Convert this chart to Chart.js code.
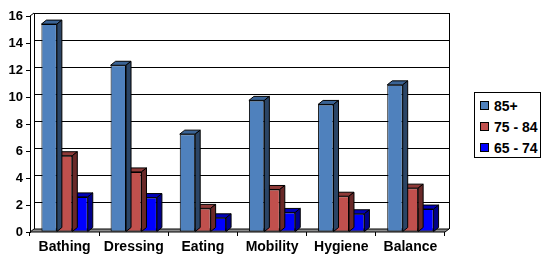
<!DOCTYPE html>
<html>
<head>
<meta charset="utf-8">
<script src="https://cdn.jsdelivr.net/npm/chart.js@4.4.0/dist/chart.umd.min.js"></script>
<style>
  body { margin: 0; background: #fff; }
  #wrap { position: relative; width: 542px; height: 257px; }
  #legend {
    position: absolute; left: 474px; top: 92px; width: 65px; height: 64px;
    border: 1px solid #000; background: #fff;
    font: bold 14px "Liberation Sans", Arial, sans-serif; color: #000;
  }
  .item { position: absolute; left: 5px; height: 16px; line-height: 16px; white-space: nowrap; }
  .swatch { display: inline-block; width: 7px; height: 7px; border: 1px solid #000; margin-right: 5px; vertical-align: 1px; }
</style>
</head>
<body>
<div id="wrap">
  <canvas id="chart" width="542" height="257"></canvas>
  <div id="legend"></div>
</div>
<script>
const categories = ['Bathing', 'Dressing', 'Eating', 'Mobility', 'Hygiene', 'Balance'];
const seriesLabels = ['85+', '75 - 84', '65 - 74'];
const age85plus = [15.4, 12.35, 7.25, 9.75, 9.45, 10.9];
const age75to84 = [5.65, 4.45, 1.75, 3.15, 2.65, 3.25];
const age65to74 = [2.6, 2.55, 1.05, 1.45, 1.35, 1.7];

// front, top, side colours per series
const faceColors = [
  ['#4F81BD', '#3A6395', '#2B4566'],
  ['#C0504D', '#8E3A38', '#692928'],
  ['#0000FF', '#0000B8', '#00008A']
];

(function() {
  const WALL_DX = 4, WALL_DY = -3;   // depth of walls/floor
  const BAR_DX = 5, BAR_DY = -4;     // depth of each bar

  function poly(ctx, pts, fill) {
    ctx.beginPath();
    ctx.moveTo(pts[0][0], pts[0][1]);
    for (let i = 1; i < pts.length; i++) ctx.lineTo(pts[i][0], pts[i][1]);
    ctx.closePath();
    ctx.fillStyle = fill;
    ctx.fill();
    ctx.strokeStyle = '#000';
    ctx.lineWidth = 1;
    ctx.stroke();
  }

  // back wall gridlines, left wall edge and floor
  const wallsPlugin = {
    id: 'walls',
    beforeDatasetsDraw(chart) {
      const ctx = chart.ctx;
      const a = chart.chartArea;
      const y = chart.scales.y;
      ctx.save();
      ctx.strokeStyle = '#000';
      ctx.lineWidth = 1;
      y.ticks.forEach(t => {
        const py = Math.round(y.getPixelForValue(t.value) + WALL_DY) + 0.5;
        ctx.beginPath();
        ctx.moveTo(a.left + WALL_DX, py);
        ctx.lineTo(a.right + WALL_DX, py);
        ctx.stroke();
      });
      const l = Math.round(a.left + WALL_DX) + 0.5;
      const r = Math.round(a.right + WALL_DX) + 0.5;
      ctx.beginPath();
      ctx.moveTo(l, a.top + WALL_DY);
      ctx.lineTo(l, a.bottom + WALL_DY);
      ctx.moveTo(r, a.top + WALL_DY);
      ctx.lineTo(r, a.bottom + WALL_DY);
      ctx.moveTo(a.left, a.top);
      ctx.lineTo(a.left + WALL_DX, a.top + WALL_DY);
      ctx.stroke();
      poly(ctx, [
        [a.left, a.bottom], [a.right, a.bottom],
        [a.right + WALL_DX, a.bottom + WALL_DY], [a.left + WALL_DX, a.bottom + WALL_DY]
      ], '#8C8C8C');
      ctx.restore();
    },
    afterDatasetDraw(chart, args) {
      const ctx = chart.ctx;
      const colors = faceColors[args.index];
      const meta = args.meta;
      ctx.save();
      meta.data.forEach(bar => {
        const half = bar.width / 2;
        const x0 = bar.x - half, x1 = bar.x + half;
        const top = bar.y, bottom = bar.base;
        poly(ctx, [[x0, top], [x1, top], [x1 + BAR_DX, top + BAR_DY], [x0 + BAR_DX, top + BAR_DY]], colors[1]);
        poly(ctx, [[x1, top], [x1 + BAR_DX, top + BAR_DY], [x1 + BAR_DX, bottom + BAR_DY], [x1, bottom]], colors[2]);
      });
      ctx.restore();
    }
  };

  function buildLegend() {
    const legend = document.getElementById('legend');
    seriesLabels.forEach((label, i) => {
      const item = document.createElement('div');
      item.className = 'item';
      item.style.top = (5 + i * 21) + 'px';
      const sw = document.createElement('span');
      sw.className = 'swatch';
      sw.style.background = faceColors[i][0];
      item.appendChild(sw);
      item.appendChild(document.createTextNode(label));
      legend.appendChild(item);
    });
  }

  document.addEventListener('DOMContentLoaded', function() {
    const ctx = document.getElementById('chart').getContext('2d');
    const seriesData = [age85plus, age75to84, age65to74];

    new Chart(ctx, {
      type: 'bar',
      data: {
        labels: categories,
        datasets: seriesLabels.map((label, i) => ({
          label: label,
          data: seriesData[i],
          backgroundColor: faceColors[i][0],
          borderColor: '#000',
          borderWidth: 1,
          borderSkipped: false,
          barPercentage: 1,
          categoryPercentage: 0.67
        }))
      },
      options: {
        responsive: false,
        animation: false,
        devicePixelRatio: 1,
        layout: { padding: { top: 16, right: 97, bottom: 0, left: 0 } },
        plugins: { legend: { display: false }, tooltip: { enabled: false } },
        scales: {
          x: {
            grid: { drawOnChartArea: false, offset: true, tickLength: 4, color: '#000' },
            border: { display: false },
            ticks: { color: '#000', padding: 3, font: { family: 'Liberation Sans', size: 14, weight: 'bold' } },
            afterFit: s => { s.height = 25; }
          },
          y: {
            min: 0,
            max: 16,
            grid: { drawOnChartArea: false, tickLength: 4, color: '#000' },
            border: { display: true, color: '#000' },
            ticks: { stepSize: 2, color: '#000', padding: 3, font: { family: 'Liberation Sans', size: 13, weight: 'bold' } },
            afterFit: s => { s.width = 30; }
          }
        }
      },
      plugins: [wallsPlugin]
    });

    buildLegend();
  });
})();
</script>
</body>
</html>
